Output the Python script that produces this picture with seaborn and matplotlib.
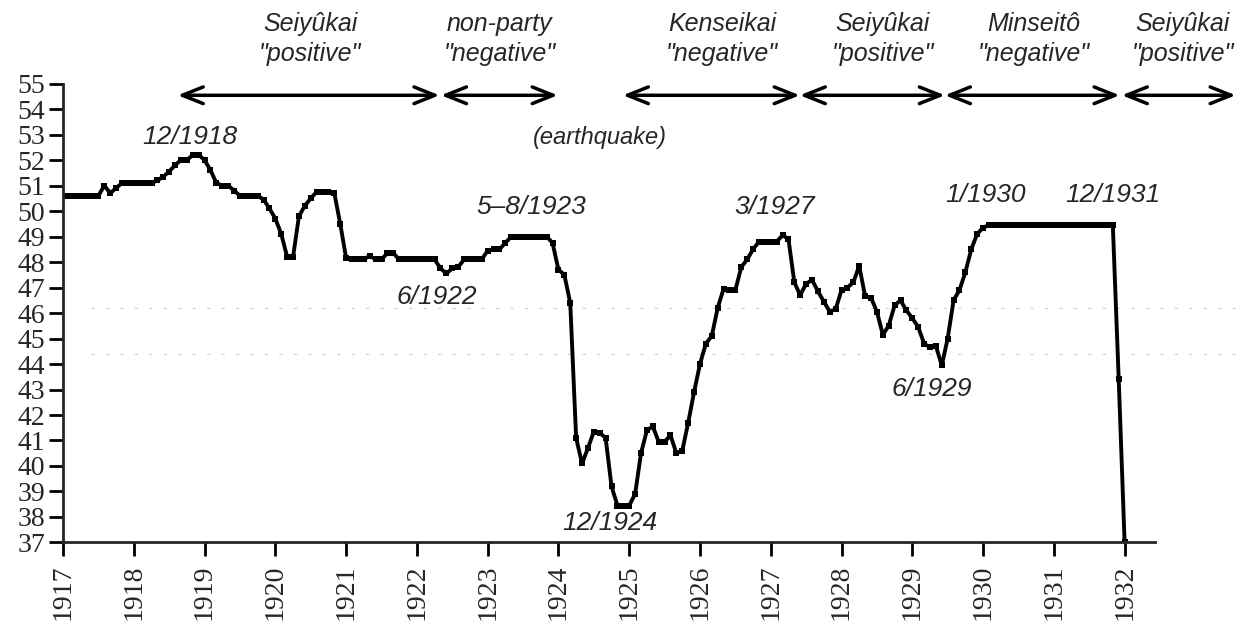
import numpy as np
import pandas as pd
import matplotlib
matplotlib.use("Agg")
import matplotlib.pyplot as plt
import seaborn as sns

# monthly index values, Jan..Dec of each year
y1917 = [50.6, 50.6, 50.6, 50.6, 50.6, 50.6, 50.6, 51.0, 50.7, 50.9, 51.1, 51.1]
y1918 = [51.1, 51.1, 51.1, 51.1, 51.2, 51.35, 51.55, 51.8, 52.0, 52.0, 52.2, 52.2]
y1919 = [52.0, 51.6, 51.1, 51.0, 51.0, 50.8, 50.6, 50.6, 50.6, 50.6, 50.45, 50.1]
y1920 = [49.7, 49.1, 48.2, 48.2, 49.8, 50.2, 50.5, 50.75, 50.75, 50.75, 50.7, 49.5]
y1921 = [48.15, 48.1, 48.1, 48.1, 48.25, 48.1, 48.1, 48.35, 48.35, 48.1, 48.1, 48.1]
y1922 = [48.1, 48.1, 48.1, 48.1, 47.75, 47.55, 47.75, 47.8, 48.1, 48.1, 48.1, 48.1]
y1923 = [48.45, 48.5, 48.5, 48.75, 49.0, 49.0, 49.0, 49.0, 49.0, 49.0, 49.0, 48.75]
y1924 = [47.7, 47.5, 46.4, 41.1, 40.1, 40.7, 41.35, 41.3, 41.1, 39.2, 38.45, 38.45]
y1925 = [38.45, 38.9, 40.5, 41.4, 41.55, 40.95, 40.95, 41.2, 40.5, 40.6, 41.7, 42.9]
y1926 = [44.0, 44.8, 45.1, 46.2, 46.95, 46.9, 46.9, 47.8, 48.1, 48.5, 48.8, 48.8]
y1927 = [48.8, 48.8, 49.05, 48.9, 47.2, 46.7, 47.15, 47.3, 46.85, 46.45, 46.05, 46.15]
y1928 = [46.9, 47.0, 47.2, 47.85, 46.65, 46.6, 46.05, 45.15, 45.5, 46.3, 46.5, 46.1]
y1929 = [45.8, 45.45, 44.8, 44.65, 44.7, 43.95, 45.0, 46.5, 46.9, 47.6, 48.5, 49.1]
y1930 = [49.35, 49.45, 49.45, 49.45, 49.45, 49.45, 49.45, 49.45, 49.45, 49.45, 49.45, 49.45]
y1931 = [49.45, 49.45, 49.45, 49.45, 49.45, 49.45, 49.45, 49.45, 49.45, 49.45, 49.45, 43.4]
y1932 = [37.0]

values = (y1917 + y1918 + y1919 + y1920 + y1921 + y1922 + y1923 + y1924
          + y1925 + y1926 + y1927 + y1928 + y1929 + y1930 + y1931 + y1932)
df = pd.DataFrame({"year": 1917 + np.arange(len(values)) / 12, "value": values})

year_ticks = list(range(1917, 1933))

# cabinets (start, end) and their labels
period_start = [1918.62, 1922.34, 1924.91, 1927.41, 1929.46, 1931.96]
period_end = [1922.32, 1923.99, 1927.41, 1929.46, 1931.93, 1933.57]
period_label = ["Seiyûkai\n\"positive\"", "non-party\n\"negative\"", "Kenseikai\n\"negative\"",
                "Seiyûkai\n\"positive\"", "Minseitô\n\"negative\"", "Seiyûkai\n\"positive\""]
period_text_x = [1920.49, 1923.17, 1926.31, 1928.58, 1930.72, 1932.82]

# point annotations
note_text = ["12/1918", "(earthquake)", "5–8/1923", "6/1922", "12/1924",
             "3/1927", "6/1929", "1/1930", "12/1931"]
note_x = [1918.79, 1924.58, 1923.62, 1922.28, 1924.73, 1927.06, 1929.27, 1930.04, 1931.84]
note_y = [52.9, 52.9, 50.15, 46.62, 37.76, 50.15, 43.01, 50.62, 50.62]

sns.set_style("ticks")
plt.rcParams["font.family"] = ["Liberation Serif", "DejaVu Serif"]

fig, ax = plt.subplots(figsize=(12.46, 6.33), dpi=100)
fig.subplots_adjust(left=0.0506, right=0.927, top=0.868, bottom=0.143)

# faint scan lines
ax.hlines([46.2, 44.4], 1917.4, 1933.6, colors="#d0d0d0", linestyles=(0, (3, 10)),
          lw=0.8, clip_on=False, zorder=0)

sns.lineplot(data=df, x="year", y="value", color="black", lw=2.8, marker="s",
             markersize=3.8, markeredgewidth=0, ax=ax)

ax.set_xlim(1917, 1932.43)
ax.set_ylim(37, 55)
ax.set_xticks(year_ticks)
ax.set_xticklabels([str(y) for y in year_ticks], rotation=90)
ax.set_yticks(range(37, 56))
ax.tick_params(length=10, width=2, labelsize=20, pad=6, color="black")
ax.tick_params(axis="y", pad=3)
ax.set_xlabel("")
ax.set_ylabel("")
sns.despine(ax=ax)
for s in ["left", "bottom"]:
    ax.spines[s].set_linewidth(2)

sans = ["Liberation Sans", "DejaVu Sans"]
for x0, x1 in zip(period_start, period_end):
    ax.annotate("", xy=(x1, 54.54), xytext=(x0, 54.54),
                arrowprops=dict(arrowstyle="<->,head_length=0.75,head_width=0.3",
                                lw=2.5, color="black", shrinkA=0, shrinkB=0,
                                mutation_scale=20),
                annotation_clip=False)
for tx, lab in zip(period_text_x, period_label):
    ax.text(tx, 56.75, lab, ha="center", va="center", fontsize=18, style="italic",
            family=sans, linespacing=1.3, clip_on=False)

for t, x, y in zip(note_text, note_x, note_y):
    fs = 17 if t.startswith("(") else 19
    ax.text(x, y, t, ha="center", va="center", fontsize=fs, style="italic", family=sans)

fig.savefig("out.png", dpi=100)
